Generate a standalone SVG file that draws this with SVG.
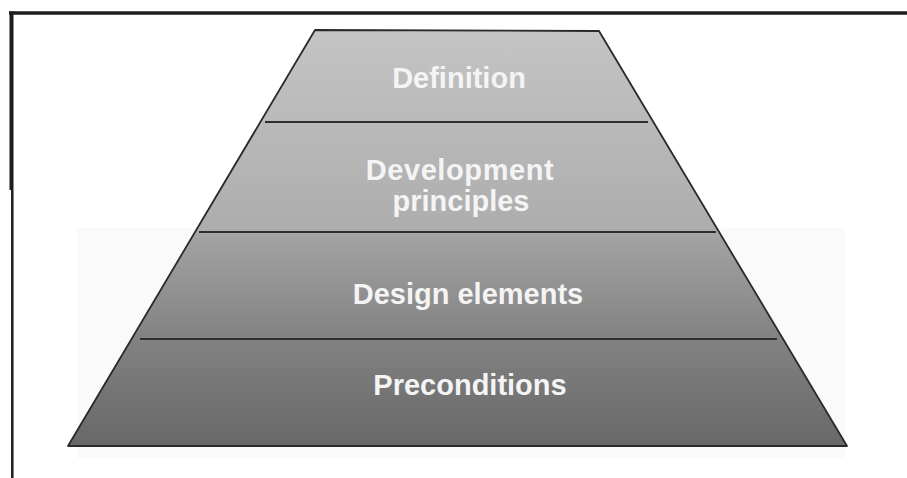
<svg xmlns="http://www.w3.org/2000/svg" width="907" height="478" viewBox="0 0 907 478">
  <defs>
    <linearGradient id="pg" gradientUnits="userSpaceOnUse" x1="0" y1="30" x2="0" y2="446">
      <stop offset="0" stop-color="#c4c4c4"/>
      <stop offset="0.48" stop-color="#adadad"/>
      <stop offset="0.5" stop-color="#a2a2a2"/>
      <stop offset="0.75" stop-color="#818181"/>
      <stop offset="1" stop-color="#686868"/>
    </linearGradient>
    <style>
      .layer { fill: url(#pg); stroke: none; }
      .edge { fill: none; stroke: #2a2a2a; stroke-width: 1.8; stroke-linejoin: round; }
      .div { stroke: #2e2e2e; stroke-width: 1.8; }
      .frame { stroke: #1e1e1e; fill: none; }
      .lbl { font-family: "Liberation Sans", Arial, sans-serif; font-weight: bold; font-size: 29px; fill: #f4f4f4; text-anchor: middle; }
    </style>
  </defs>
  <rect x="0" y="0" width="907" height="478" fill="#ffffff"/>
  <rect x="77" y="228" width="768" height="230" fill="#fafafa"/>
  <g id="frame">
    <line class="frame" x1="9" y1="13" x2="907" y2="13" stroke-width="3.5"/>
    <line class="frame" x1="11.5" y1="11.5" x2="11.5" y2="190" stroke-width="4"/>
    <line class="frame" x1="12.3" y1="190" x2="12.3" y2="478" stroke-width="2.5"/>
  </g>
  <g id="definition">
    <polygon class="layer" points="315,30 599,31 653.4,122 260.4,122"/>
    <text class="lbl" x="459" y="88">Definition</text>
  </g>
  <g id="development-principles">
    <polygon class="layer" points="260.4,122 653.4,122 719.1,232 195.1,232"/>
    <text class="lbl" x="460" y="180" letter-spacing="0.6">Development</text>
    <text class="lbl" x="461" y="211">principles</text>
  </g>
  <g id="design-elements">
    <polygon class="layer" points="195.1,232 719.1,232 783.1,339 131.5,339"/>
    <text class="lbl" x="468" y="304">Design elements</text>
  </g>
  <g id="preconditions">
    <polygon class="layer" points="131.5,339 783.1,339 847,446 68,446"/>
    <text class="lbl" x="470" y="395">Preconditions</text>
  </g>
  <g id="connectors">
    <polygon class="edge" points="315,30 599,31 847,446 68,446"/>
    <line class="div" x1="265" y1="122" x2="648" y2="122"/>
    <line class="div" x1="199" y1="232" x2="716" y2="232"/>
    <line class="div" x1="140" y1="339" x2="777" y2="339"/>
  </g>
</svg>
